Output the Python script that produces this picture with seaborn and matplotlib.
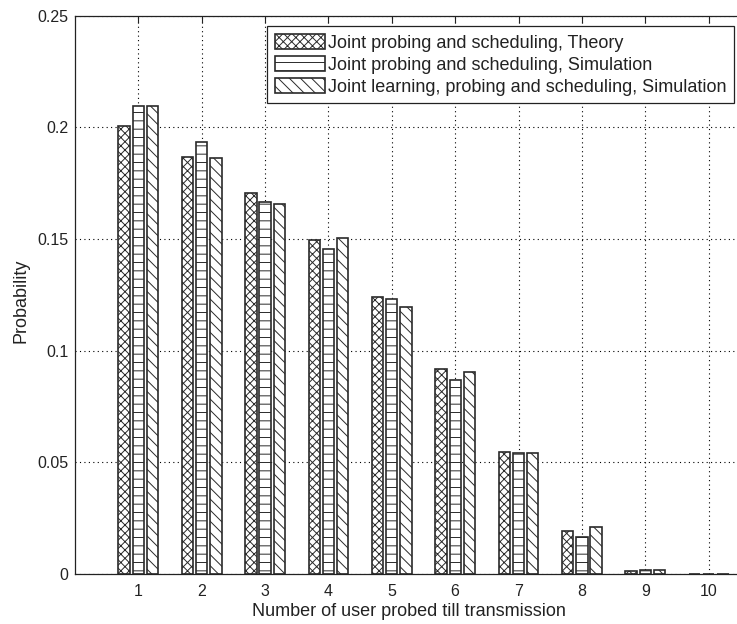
import matplotlib
matplotlib.use("Agg")
import matplotlib.pyplot as plt
import seaborn as sns
import pandas as pd

# Probability of the number of users probed before a transmission
users = [1, 2, 3, 4, 5, 6, 7, 8, 9, 10]
theory = [0.2004, 0.1868, 0.1704, 0.1496, 0.1238, 0.0917, 0.0547, 0.0193, 0.0013, 0.0]
simulation = [0.2094, 0.1935, 0.1667, 0.1457, 0.1233, 0.0869, 0.0541, 0.0166, 0.0016, 0.0]
learning = [0.2094, 0.1862, 0.1655, 0.1502, 0.1193, 0.0906, 0.0541, 0.0211, 0.0019, 0.0]

series_names = [
    "Joint probing and scheduling, Theory",
    "Joint probing and scheduling, Simulation",
    "Joint learning, probing and scheduling, Simulation",
]
y_ticks = [0, 0.05, 0.1, 0.15, 0.2, 0.25]
y_tick_labels = ["0", "0.05", "0.1", "0.15", "0.2", "0.25"]

df = pd.DataFrame({
    "users": users * 3,
    "prob": theory + simulation + learning,
    "series": [series_names[0]] * 10 + [series_names[1]] * 10 + [series_names[2]] * 10,
})

sns.set_style("white")
plt.rcParams["font.family"] = ["Liberation Sans", "DejaVu Sans"]
plt.rcParams["hatch.linewidth"] = 0.7

W, H = 737, 624
fig = plt.figure(figsize=(W / 100, H / 100), dpi=100)
left_px, right_px, top_px, bot_px = 75, 772, 15.5, 574
ax = fig.add_axes([left_px / W, 1 - bot_px / H, (right_px - left_px) / W, (bot_px - top_px) / H])

sns.barplot(
    data=df, x="users", y="prob", hue="series", hue_order=series_names,
    native_scale=True, width=0.672, gap=0.2, errorbar=None, legend=False, ax=ax,
)

hatches = ["xxxx", "--", "\\\\\\"]
for cont, hatch in zip(ax.containers, hatches):
    for bar in cont:
        bar.set_facecolor("white")
        bar.set_edgecolor("#2a2a2a")
        bar.set_linewidth(1.2)
        bar.set_hatch(hatch)

ax.set_xlim(0, 11)
ax.set_ylim(0, 0.25)
ax.set_xticks(users)
ax.set_xticklabels([str(u) for u in users])
ax.set_yticks(y_ticks)
ax.set_yticklabels(y_tick_labels)

tick_fs = 11.5
text_fs = 13
text_color = "#222222"
ax.tick_params(direction="in", length=5, width=0.8, colors="#222222",
               labelsize=tick_fs, top=True, right=True, pad=4.5)
ax.tick_params(axis="x", pad=7)
for sp in ax.spines.values():
    sp.set_visible(True)
    sp.set_color("#222222")
    sp.set_linewidth(0.9)

ax.set_axisbelow(True)
ax.grid(True, color="black", linestyle=(0, (1, 3)), linewidth=0.8)

ax.set_xlabel("Number of user probed till transmission", fontsize=text_fs, color=text_color)
ax.xaxis.set_label_coords((409 - left_px) / (right_px - left_px), -0.052)
ax.set_ylabel("Probability", fontsize=text_fs, color=text_color)
ax.yaxis.set_label_coords((30 - left_px) / (right_px - left_px), 0.49)

leg = ax.legend(
    handles=list(ax.containers), labels=series_names,
    loc="upper left", bbox_to_anchor=(267 / W, 1 - 26 / H), bbox_transform=fig.transFigure,
    borderaxespad=0, fontsize=text_fs, frameon=True, fancybox=False, framealpha=1,
    edgecolor="#222222", handlelength=2.8, handleheight=0.95, handletextpad=0.15,
    labelspacing=0.22, borderpad=0.42,
)
leg.get_frame().set_linewidth(0.9)
for t in leg.get_texts():
    t.set_color(text_color)

fig.savefig("out.png", dpi=100)
